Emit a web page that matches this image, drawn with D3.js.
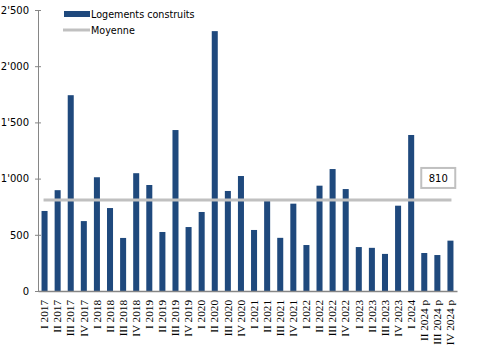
<!DOCTYPE html>
<html>
<head>
<meta charset="utf-8">
<script src="https://cdn.jsdelivr.net/npm/d3@7"></script>
<style>
  html, body { margin: 0; padding: 0; background: #fff; }
  svg { display: block; }
</style>
</head>
<body>
<svg id="chart" width="478" height="349"></svg>
<script>
// Housing units built per quarter (p = provisional)
const quarters = [
  "I 2017", "II 2017", "III 2017", "IV 2017",
  "I 2018", "II 2018", "III 2018", "IV 2018",
  "I 2019", "II 2019", "III 2019", "IV 2019",
  "I 2020", "II 2020", "III 2020", "IV 2020",
  "I 2021", "II 2021", "III 2021", "IV 2021",
  "I 2022", "II 2022", "III 2022", "IV 2022",
  "I 2023", "II 2023", "III 2023", "IV 2023",
  "I 2024", "II 2024 p", "III 2024 p", "IV 2024 p"
];
const logements = [
  712, 897, 1742, 622,
  1012, 738, 472, 1048,
  943, 525, 1432, 569,
  703, 2312, 890, 1023,
  543, 803, 473, 777,
  409, 937, 1085, 907,
  391, 384, 330, 759,
  1388, 338, 320, 448
];
const moyenne = 810;
const yTicks = [0, 500, 1000, 1500, 2000, 2500];
const legendLabels = ["Logements construits", "Moyenne"];

const barColor = "#1f497d";
const meanColor = "#c0c0c0";
const axisColor = "#868686";

const svg = d3.select("#chart");

const x = d3.scaleBand()
  .domain(quarters)
  .range([38, 457])
  .paddingInner(0.54)
  .paddingOuter(0.27);

const y = d3.scaleLinear()
  .domain([0, 2500])
  .range([291, 10]);

const fmt = v => d3.format(",")(v).replace(/,/g, "'");

// Y axis
const yAxis = svg.append("g")
  .attr("transform", "translate(38,0)")
  .call(d3.axisLeft(y).tickValues(yTicks).tickFormat(fmt).tickSizeInner(3).tickSizeOuter(0).tickPadding(6));
yAxis.select(".domain").attr("stroke", axisColor);
yAxis.selectAll(".tick line").attr("stroke", axisColor).attr("x1", 3).attr("x2", -3);
yAxis.selectAll(".tick text")
  .attr("fill", "#000")
  .style("font-family", "'DejaVu Sans', Verdana, sans-serif")
  .style("font-size", "10px");

// Bars
svg.append("g")
  .selectAll("rect")
  .data(logements)
  .join("rect")
  .attr("x", (d, i) => x(quarters[i]))
  .attr("width", x.bandwidth())
  .attr("y", d => y(d))
  .attr("height", d => y(0) - y(d))
  .attr("fill", barColor);

// X axis
const xAxis = svg.append("g")
  .attr("transform", "translate(0,291)")
  .call(d3.axisBottom(x).tickSize(0).tickPadding(0));
xAxis.select(".domain").attr("stroke", axisColor).attr("stroke-width", 1.5);
xAxis.selectAll(".tick text")
  .attr("fill", "#000")
  .attr("transform", "rotate(-90)")
  .attr("text-anchor", "end")
  .attr("x", -9)
  .attr("y", 0)
  .attr("dy", "0.33em")
  .style("font-family", "'Liberation Serif', 'Times New Roman', serif")
  .style("font-size", "11.2px");

// Average line
const xFirst = x(quarters[0]) + x.bandwidth() / 2 - 1;
const xLast = x(quarters[quarters.length - 1]) + x.bandwidth() / 2 + 1;
svg.append("line")
  .attr("x1", xFirst).attr("x2", xLast)
  .attr("y1", y(moyenne)).attr("y2", y(moyenne))
  .attr("stroke", meanColor)
  .attr("stroke-width", 3);

// Average value label
const boxX = x("II 2024 p"), boxY = y(moyenne) - 32;
svg.append("rect")
  .attr("x", boxX).attr("y", boxY)
  .attr("width", 34).attr("height", 20)
  .attr("fill", "#fff")
  .attr("stroke", meanColor)
  .attr("stroke-width", 2);
svg.append("text")
  .attr("x", boxX + 17).attr("y", boxY + 14)
  .attr("text-anchor", "middle")
  .style("font-family", "'DejaVu Sans', Verdana, sans-serif")
  .style("font-size", "10px")
  .text(fmt(moyenne));

// Legend
const legend = svg.append("g").attr("transform", "translate(63,0)");
legend.append("rect")
  .attr("x", 1).attr("y", 11).attr("width", 26).attr("height", 6)
  .attr("fill", barColor);
legend.append("line")
  .attr("x1", 0).attr("x2", 27).attr("y1", 30).attr("y2", 30)
  .attr("stroke", meanColor).attr("stroke-width", 3);
legend.selectAll("text")
  .data(legendLabels)
  .join("text")
  .attr("x", 28)
  .attr("y", (d, i) => 18 + i * 16)
  .style("font-family", "'DejaVu Sans', Verdana, sans-serif")
  .style("font-size", "9.6px")
  .attr("fill", "#000")
  .text(d => d);
</script>
</body>
</html>
